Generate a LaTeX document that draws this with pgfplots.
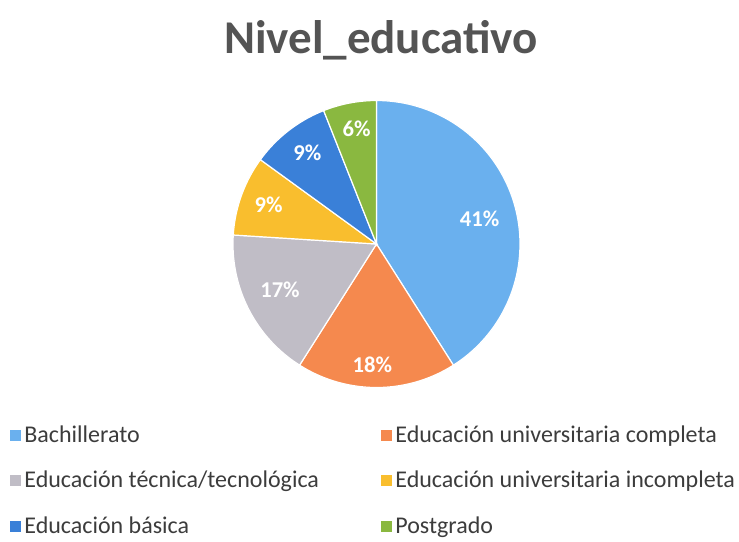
\documentclass[border=0pt]{standalone}
\usepackage{fontspec}
\setmainfont{Carlito}
\usepackage{pgfplots}
\pgfplotsset{compat=1.18}
\usepgfplotslibrary{polar}
\definecolor{cBach}{RGB}{106,176,238}
\definecolor{cUniC}{RGB}{245,137,78}
\definecolor{cTec}{RGB}{192,189,198}
\definecolor{cUniI}{RGB}{249,190,46}
\definecolor{cBas}{RGB}{58,128,216}
\definecolor{cPost}{RGB}{138,184,64}
\definecolor{titlegray}{RGB}{84,84,84}
\definecolor{legtext}{RGB}{60,60,60}
\tikzset{lbl/.style={font=\fontsize{11.3}{13}\selectfont\bfseries, text=white}}

% #1 share before this slice (%), #2 share of this slice (%), #3 colour, #4 legend text
\newcommand\slice[4]{%
  \addplot[fill=#3, draw=white, line width=0.6pt, samples=80,
    domain={90-3.6*(#1+#2)}:{90-3.6*(#1)}] {1} -- (0,0) -- cycle;
  \addlegendentry{#4}
}

\begin{document}
\begin{tikzpicture}
\useasboundingbox (0,0) rectangle (369.5pt,-270.5pt);
\node[font=\fontsize{23.5}{27}\selectfont\bfseries, text=titlegray, anchor=base]
  at (190.5pt,-26.5pt) {Nivel\_educativo};
\begin{polaraxis}[hide axis, scale only axis, width=143.5pt, height=143.5pt,
  xmin=0, xmax=360, ymin=0, ymax=1, clip=false,
  at={(188.25pt,-122pt)}, anchor=center,
  legend columns=2, legend cell align=left,
  legend image code/.code={\fill[#1,draw=none] (0pt,-2.75pt) rectangle (5.5pt,2.75pt);},
  legend style={draw=none, fill=none, inner sep=0pt, row sep=10pt,
    at={(axis description cs:-0.777,-0.12)}, anchor=north west,
    font=\fontsize{12}{14}\selectfont, text=legtext, nodes={inner sep=1.5pt}}]
\slice{0}{41}{cBach}{\makebox[177pt][l]{Bachillerato}}
\slice{41}{18}{cUniC}{Educación universitaria completa}
\slice{59}{17}{cTec}{\makebox[177pt][l]{Educación técnica/tecnológica}}
\slice{76}{9}{cUniI}{Educación universitaria incompleta}
\slice{85}{9}{cBas}{\makebox[177pt][l]{Educación básica}}
\slice{94}{6}{cPost}{Postgrado}
\node[lbl] at (axis cs:14,0.74) {41\%};
\node[lbl] at (axis cs:-92,0.84) {18\%};
\node[lbl] at (axis cs:-154.5,0.745) {17\%};
\node[lbl] at (axis cs:160,0.8) {9\%};
\node[lbl] at (axis cs:127,0.8) {9\%};
\node[lbl] at (axis cs:99.8,0.815) {6\%};
\end{polaraxis}
\end{tikzpicture}
\end{document}
